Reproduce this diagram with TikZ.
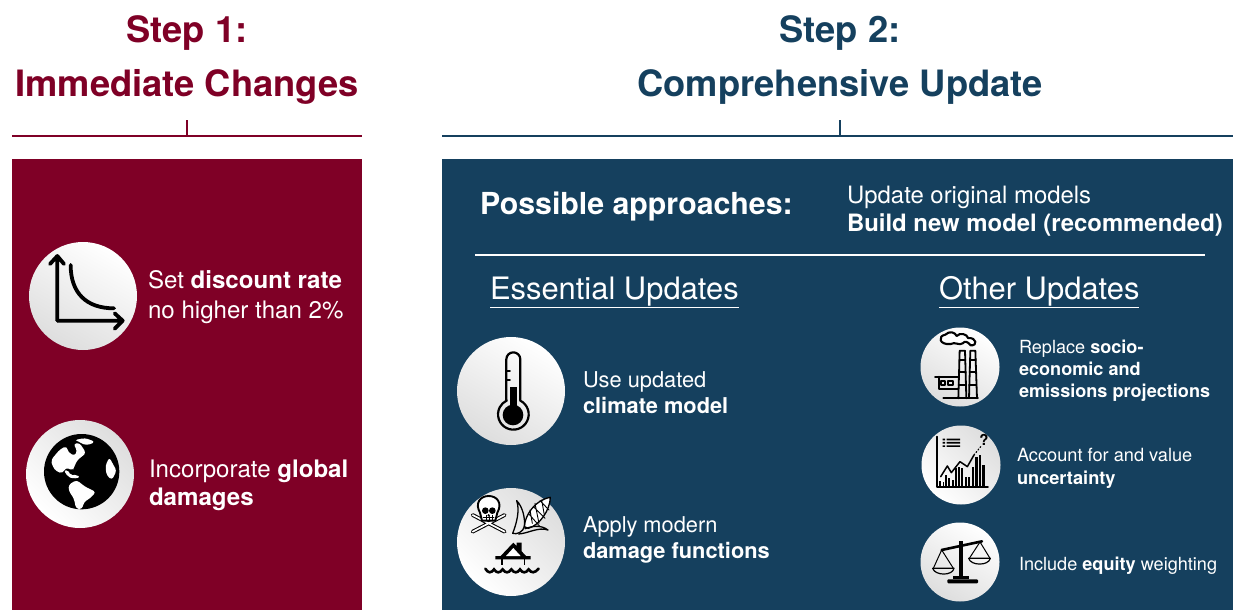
\documentclass[tikz,border=0pt]{standalone}
\usepackage{fontspec}
\setmainfont{TeX Gyre Heros}
\definecolor{stepred}{HTML}{7F0026}
\definecolor{stepblue}{HTML}{15405E}
\definecolor{dgray}{HTML}{DEDEDE}
\definecolor{lgray}{HTML}{F8F8F8}
\newcommand{\fs}[1]{\fontsize{#1}{#1}\selectfont}
\tikzset{
  x=1pt,y=-1pt,
  lbl/.style={inner sep=0,outer sep=0,anchor=base west,text=white},
  ttl/.style={inner sep=0,outer sep=0,anchor=base,font=\bfseries\fs{36.3}},
  disc/.style={circle,inner sep=0,minimum size=#1,shading=axis},
  lightBR/.style={left color=dgray,middle color=lgray,right color=white,shading angle=-45},
  lightT/.style={left color=white,middle color=lgray,right color=dgray,shading angle=-30},
  ink/.style={draw=black,line width=1.8pt,line cap=round,line join=round},
  thick ink/.style={draw=black,line width=3.8pt,line cap=round,line join=round},
  zm/.style n args={2}{shift={(#1,#2)},x=0.3333pt,y=-0.3333pt},
}
\begin{document}
\begin{tikzpicture}
\useasboundingbox (0,0) rectangle (1233,610);
\fill[white] (0,0) rectangle (1233,610);

% titles
\node[ttl,text=stepred] (t1a) at (187,42) {Step 1:};
\node[ttl,text=stepred] (t1b) at (187,96) {Immediate Changes};
\node[ttl,text=stepblue] (t2a) at (840,42) {Step 2:};
\node[ttl,text=stepblue] (t2b) at (840,96) {Comprehensive Update};

% brackets
\coordinate (r0) at (12,136); \coordinate (r1) at (362,136);
\coordinate (rm) at (187,136); \coordinate (rt) at (187,120);
\coordinate (b0) at (442,136); \coordinate (b1) at (1233,136);
\coordinate (bm) at (840,136); \coordinate (bt) at (840,120);
\draw[stepred,line width=1.9pt] (r0) -- (r1) (rm) -- (rt);
\draw[stepblue,line width=1.9pt] (b0) -- (b1) (bm) -- (bt);

% panels
\fill[stepred] (12,159) rectangle (362,610);
\fill[stepblue] (442,159) rectangle (1233,610);

% header of right panel
\node[lbl,font=\bfseries\fs{30.3}] (pa) at (480,214) {Possible approaches:};
\node[lbl,font=\fs{23.9}] (u1) at (847,203) {Update original models};
\node[lbl,font=\bfseries\fs{23.9}] (u2) at (847,231) {Build new model (recommended)};
\coordinate (w0) at (475,255); \coordinate (w1) at (1205,255);
\draw[white,line width=2pt] (w0) -- (w1);
\node[lbl,font=\fs{30.9}] (eu) at (490,299) {\underline{Essential Updates}};
\node[lbl,font=\fs{30.9}] (ou) at (939,299) {\underline{Other Updates}};

% discs
\node[disc=108pt,lightT] (c1) at (83,296) {};
\node[disc=108pt,lightBR] (c2) at (80,474) {};
\node[disc=108pt,lightT] (c3) at (511,391) {};
\node[disc=108pt,lightBR] (c4) at (511,542) {};
\node[disc=79pt,lightT] (c5) at (960,367) {};
\node[disc=79pt,lightBR] (c6) at (961,465) {};
\node[disc=79pt,lightT] (c7) at (960,562) {};

% left panel text
\node[lbl,font=\fs{24.1}] (s1) at (148,288) {Set \textbf{discount rate}};
\node[lbl,font=\fs{24.1}] (s2) at (148,318) {no higher than 2\%};
\node[lbl,font=\fs{24.1}] (g1) at (149,477) {Incorporate \textbf{global}};
\node[lbl,font=\bfseries\fs{24.1}] (g2) at (149,505) {damages};

% essential text
\node[lbl,font=\fs{21.8}] (e1) at (583,387) {Use updated};
\node[lbl,font=\bfseries\fs{21.8}] (e2) at (583,413) {climate model};
\node[lbl,font=\fs{21.8}] (e3) at (583,532) {Apply modern};
\node[lbl,font=\bfseries\fs{21.8}] (e4) at (583,558) {damage functions};

% other text
\node[lbl,font=\fs{18.1}] (o1) at (1019,353) {Replace \textbf{socio-}};
\node[lbl,font=\bfseries\fs{18.1}] (o2) at (1019,375) {economic and};
\node[lbl,font=\bfseries\fs{18.1}] (o3) at (1019,397) {emissions projections};
\node[lbl,font=\fs{18.2}] (o4) at (1017,461) {Account for and value};
\node[lbl,font=\bfseries\fs{18.2}] (o5) at (1017,484) {uncertainty};
\node[lbl,font=\fs{18.1}] (o6) at (1019,570) {Include \textbf{equity} weighting};

% --- icon: discount curve
\begin{scope}[zm={0}{230}]
\draw[thick ink] (172,272) -- (172,82) (150,102) -- (172,78) -- (192,102);
\draw[thick ink] (172,272) -- (368,272) (344,250) -- (368,272) -- (344,296);
\draw[thick ink] (212,105) .. controls (212,190) and (260,235) .. (342,235);
\end{scope}

% --- icon: globe
\begin{scope}[zm={40}{430}]
\fill[black] (125,125) circle[radius=113];
\fill[white,rounded corners=3pt] (33,90) -- (60,58) -- (80,48) -- (84,66) -- (104,78) -- (112,62) -- (100,42) -- (118,38) -- (138,68) -- (128,78) -- (112,90) -- (102,112) -- (98,122) -- (78,112) -- (68,130) -- (50,125) -- (38,110) -- cycle;
\fill[white,rounded corners=3pt] (104,30) -- (135,24) -- (165,35) -- (150,44) -- (130,44) -- (116,34) -- cycle;
\fill[white,rounded corners=2pt] (72,122) -- (84,120) -- (92,136) -- (110,134) -- (120,142) -- (100,146) -- (84,140) -- cycle;
\fill[white,rounded corners=3pt] (86,164) -- (110,150) -- (135,170) -- (168,186) -- (150,205) -- (132,216) -- (126,238) -- (108,236) -- (102,206) -- (86,182) -- cycle;
\fill[white,rounded corners=3pt] (196,108) -- (208,82) -- (222,108) -- (230,122) -- (216,150) -- (200,136) -- cycle;
\end{scope}

% --- icon: thermometer
\begin{scope}[zm={445}{330}]
\draw[ink,line width=2.2pt] (184,212) -- (184,88) arc[start angle=180,end angle=360,radius=21] -- (226,212) arc[start angle=-63,end angle=245,radius=46];
\fill[black] (204,255) circle[radius=31];
\fill[black] (194,172) rectangle (215,250);
\draw[ink] (184,122) -- (195,122) (184,150) -- (195,150);
\end{scope}

% --- icon: skull, corn, house
\begin{scope}[zm={460}{490}]
% crossbones
\draw[black,line width=3.8pt,line cap=round] (38,75) -- (134,125) (134,75) -- (38,125);
\draw[white,line width=1.7pt,line cap=round] (38,75) -- (134,125) (134,75) -- (38,125);
% skull
\draw[ink,fill=white,line width=1.9pt] (60,68) .. controls (44,40) and (60,18) .. (86,18) .. controls (112,18) and (128,40) .. (112,68) -- (106,92) -- (66,92) -- cycle;
\fill[black] (76,62) circle[radius=10] (97,62) circle[radius=10];
\fill[black] (86,76) circle[radius=4];
\draw[ink,line width=0.9pt] (70,82) -- (102,82) (78,76) -- (78,92) (87,80) -- (87,92) (96,76) -- (96,92);
% corn
\draw[ink,fill=white,line width=1.3pt] (193,110) .. controls (195,75) and (225,30) .. (271,22) .. controls (270,60) and (240,105) .. (205,115) -- cycle;
\draw[ink,line width=0.9pt] (205,70) -- (240,110) (220,50) -- (255,85) (240,32) -- (267,60) (217,100) -- (210,60) (237,100) -- (225,40) (253,75) -- (245,30);
\draw[ink,line width=1.3pt] (170,32) .. controls (188,50) and (196,85) .. (193,110) .. controls (190,125) and (170,135) .. (158,130) .. controls (170,100) and (180,60) .. (170,32);
\draw[ink,line width=1.3pt] (176,132) .. controls (205,130) and (235,110) .. (264,120) .. controls (240,102) and (213,110) .. (195,116);
% house
\fill[black] (106,198) -- (122,198) -- (160,158) -- (170,168) -- (170,158) -- (185,158) -- (185,184) -- (198,198) -- (212,198) -- (212,208) -- (106,208) -- cycle;
\fill[white] (138,198) -- (160,174) -- (182,198) -- cycle;
\draw[black,line width=1.6pt] (126,208) -- (126,224) (194,208) -- (194,224);
% waves
\draw[black,line width=2.6pt,line cap=round] (76,236) .. controls (84,250) and (94,250) .. (102,238) .. controls (110,250) and (120,250) .. (128,238) .. controls (136,250) and (146,250) .. (154,238) .. controls (162,250) and (172,250) .. (180,238) .. controls (188,250) and (198,250) .. (206,238) .. controls (214,250) and (224,250) .. (236,236);
\end{scope}

% --- icon: factory
\begin{scope}[zm={910}{320}]
\draw[ink,fill=white,line width=2.1pt] (122,72) .. controls (88,76) and (82,48) .. (106,44) .. controls (118,32) and (135,36) .. (140,48) .. controls (150,36) and (172,43) .. (174,54) .. controls (200,52) and (204,78) .. (182,76) .. controls (172,64) and (165,62) .. (158,70) .. controls (148,78) and (135,64) .. (122,72);
\draw[ink] (145,235) -- (149,92) -- (165,92) -- (169,235) (177,235) -- (181,92) -- (196,92) -- (201,235);
\draw[ink,line width=2.2pt] (148,120) -- (166,120) (147,155) -- (167,155) (146,195) -- (168,195) (180,120) -- (197,120) (179,155) -- (198,155) (178,195) -- (199,195);
\draw[ink] (75,170) -- (145,170) (86,170) -- (86,208) -- (145,208) (100,235) -- (204,235);
\draw[ink] (93,182) rectangle (105,196) (115,182) rectangle (128,196);
\end{scope}

% --- icon: chart
\begin{scope}[zm={910}{320}]
\draw[ink] (80,350) -- (80,500) -- (234,500);
\draw[black,line width=1.3pt] (90,500) -- (90,482) (100,500) -- (100,485);
\draw[black,line width=1.7pt] (108,500) -- (108,465) (118,500) -- (118,475) (128,500) -- (128,480) (138,500) -- (138,445) (147,500) -- (147,442) (157,500) -- (157,445) (168,500) -- (168,470) (178,500) -- (178,470) (188,500) -- (188,440);
\draw[black,line width=2.4pt] (199,500) -- (199,412) (210,500) -- (210,405) (221,500) -- (221,435);
\draw[ink,line width=1.5pt] (92,470) -- (112,438) -- (124,458) -- (150,425) -- (172,440) -- (192,405);
\draw[ink,line width=1.2pt,dotted] (192,405) -- (212,380);
\node[inner sep=0,anchor=center,font=\bfseries\fs{15},text=black] (q) at (222,360) {?};
\fill[black] (98,356) rectangle (105,361) (98,366) rectangle (105,371) (98,376) rectangle (105,381);
\fill[black] (110,356) rectangle (150,361) (110,366) rectangle (150,371) (110,376) rectangle (150,381);
\end{scope}

% --- icon: scales
\begin{scope}[zm={910}{320}]
\draw[black,line width=2.6pt,line cap=round] (95,690) -- (216,664);
\fill[black] (147,662) rectangle (158,770);
\fill[black] (128,768) rectangle (178,776);
\fill[black,rounded corners=1pt] (112,778) rectangle (204,790);
\draw[ink,line width=1pt] (95,690) -- (70,745) (95,690) -- (130,745) (210,666) -- (178,715) (210,666) -- (240,715);
\draw[ink,line width=1.2pt] (68,745) -- (132,745) .. controls (128,768) and (75,768) .. (68,745);
\draw[ink,line width=1.2pt] (176,715) -- (241,715) .. controls (236,738) and (182,738) .. (176,715);
\end{scope}
\end{tikzpicture}
\end{document}
